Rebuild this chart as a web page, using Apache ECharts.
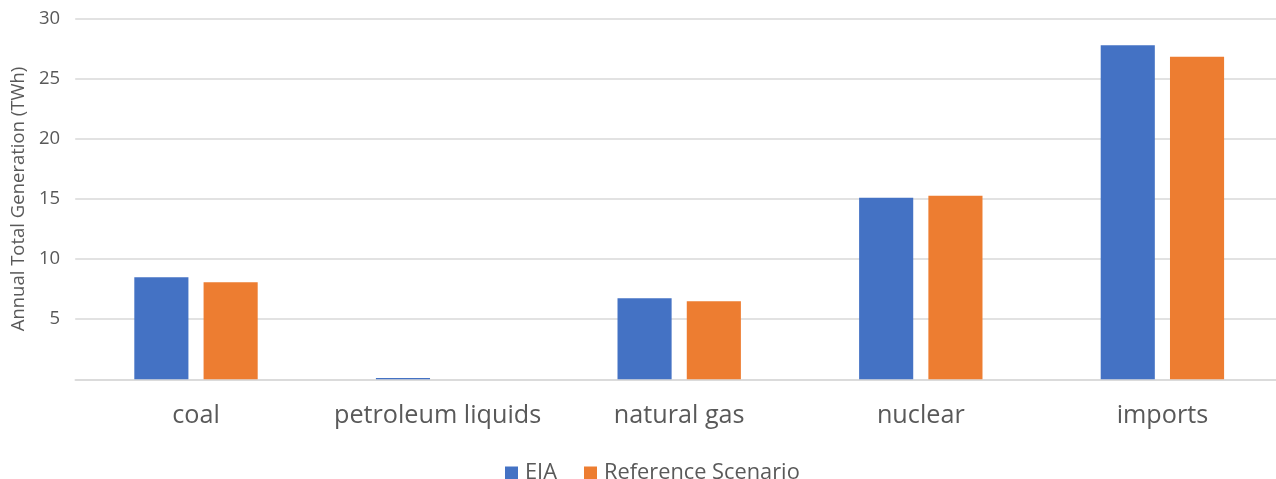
<!DOCTYPE html>
<html>
<head>
<meta charset="utf-8">
<script src="https://cdn.jsdelivr.net/npm/echarts@6/dist/echarts.min.js"></script>
<style>html,body{margin:0;padding:0;background:#fff;overflow:hidden;width:1276px;height:479px;}#c{width:1290px;height:479px;}</style>
</head>
<body>
<div id="c"></div>
<script>
const categories = ['coal', 'petroleum liquids', 'natural gas', 'nuclear', 'imports'];
const eia = [8.49, 0.1, 6.74, 15.1, 27.79];
const referenceScenario = [8.07, 0, 6.49, 15.27, 26.84];
const seriesNames = ['EIA', 'Reference Scenario'];

const chart = echarts.init(document.getElementById('c'));
const font = '"Open Sans", "Noto Sans", sans-serif';
chart.setOption({
  animation: false,
  textStyle: { fontFamily: font },
  grid: { left: 75.2, width: 1208, top: 18.7, height: 360.6, containLabel: false },
  legend: {
    top: 457, left: 500,
    itemWidth: 13, itemHeight: 13, itemGap: 27,
    icon: 'rect',
    textStyle: { fontSize: 21.8, color: '#595959', fontFamily: font, padding: [0, 0, 0, 2] },
    data: seriesNames
  },
  xAxis: {
    type: 'category',
    data: categories,
    axisLine: { lineStyle: { color: '#d9d9d9', width: 1.5 } },
    axisTick: { show: false },
    axisLabel: { fontSize: 25.2, color: '#595959', margin: 24, fontFamily: font, interval: 0 }
  },
  yAxis: {
    type: 'value',
    min: 0, max: 30, interval: 5,
    name: 'Annual Total Generation (TWh)',
    nameLocation: 'middle',
    nameGap: 47,
    nameTextStyle: { fontSize: 18.5, color: '#595959', fontFamily: font },
    axisLine: { show: false },
    axisTick: { show: false },
    axisLabel: { fontSize: 18.5, color: '#595959', margin: 15, fontFamily: font,
      formatter: v => v === 0 ? '' : String(v) },
    splitLine: { lineStyle: { color: '#d9d9d9', width: 1.5 } }
  },
  series: [
    { name: seriesNames[0], type: 'bar', data: eia, barWidth: '22.4%', barGap: '28%',
      itemStyle: { color: '#4472C4' } },
    { name: seriesNames[1], type: 'bar', data: referenceScenario, barWidth: '22.4%', barGap: '28%',
      itemStyle: { color: '#ED7D31' } }
  ]
});
</script>
</body>
</html>
